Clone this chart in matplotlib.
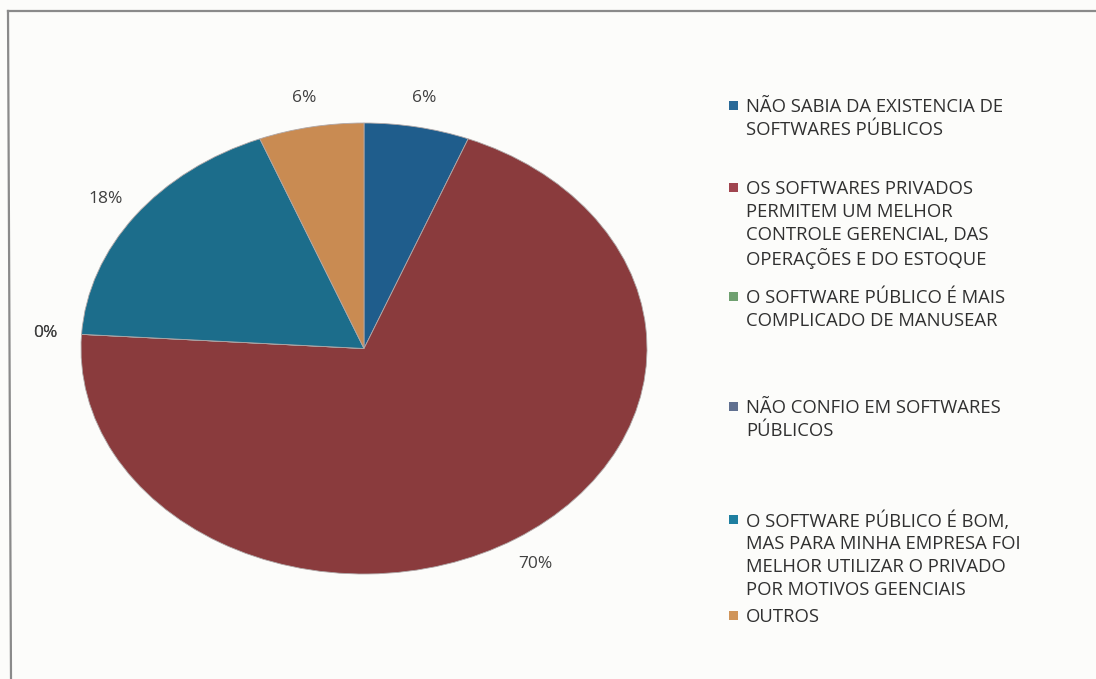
import numpy as np
import matplotlib.pyplot as plt
from matplotlib.lines import Line2D
from matplotlib.patches import Rectangle

plt.rcParams['font.family'] = ['Open Sans', 'DejaVu Sans']

categories = [
    "NÃO SABIA DA EXISTENCIA DE\nSOFTWARES PÚBLICOS",
    "OS SOFTWARES PRIVADOS\nPERMITEM UM MELHOR\nCONTROLE GERENCIAL, DAS\nOPERAÇÕES E DO ESTOQUE",
    "O SOFTWARE PÚBLICO É MAIS\nCOMPLICADO DE MANUSEAR",
    "NÃO CONFIO EM SOFTWARES\nPÚBLICOS",
    "O SOFTWARE PÚBLICO É BOM,\nMAS PARA MINHA EMPRESA FOI\nMELHOR UTILIZAR O PRIVADO\nPOR MOTIVOS GEENCIAIS",
    "OUTROS",
]
values = [6, 70, 0, 0, 18, 6]
slice_colors = ['#1f5d8c', '#8a3b3d', '#6a9a5e', '#5d6a87', '#1c6d8b', '#c98b52']
marker_colors = ['#2a6a98', '#a0454f', '#6fa070', '#607090', '#1f7fa0', '#d0955a']

fig = plt.figure(figsize=(10.96, 6.79), dpi=100)
fig.patch.set_facecolor('#fcfcfa')

# frame lines (top and left only, as in the scan)
fig.add_artist(Line2D([8 / 1096, 1], [1 - 11 / 679, 1 - 11 / 679], color='#8a8a8a', lw=1.6))
fig.add_artist(Line2D([8 / 1096, 11 / 1096], [1 - 11 / 679, 0], color='#8a8a8a', lw=1.6))

ax = fig.add_axes([81 / 1096, 105 / 679, 566 / 1096, 451 / 679])
wedges, texts, autotexts = ax.pie(
    values, colors=slice_colors, startangle=90, counterclock=False,
    autopct=lambda p: f'{p:.0f}%', pctdistance=1.13,
    wedgeprops=dict(linewidth=0.6, edgecolor='#b0a8a8'),
    textprops=dict(fontsize=12.5, color='#404040'))
ax.set_aspect('auto')
ax.set_xlim(-1, 1)
ax.set_ylim(-1, 1)

# legend entries, laid out like the original
entry_y = [105, 187, 296, 406, 519, 615]
line_step = 23
for label, col, y in zip(categories, marker_colors, entry_y):
    fig.add_artist(Rectangle((729 / 1096, 1 - (y + 4.5) / 679), 9 / 1096, 9 / 679,
                             transform=fig.transFigure, facecolor=col, edgecolor='none'))
    for i, line in enumerate(label.split('\n')):
        fig.text(746 / 1096, 1 - (y + i * line_step) / 679, line, fontsize=13.3,
                 color='#303030', va='center_baseline', ha='left')

fig.savefig('out.png', dpi=100, facecolor=fig.get_facecolor())
